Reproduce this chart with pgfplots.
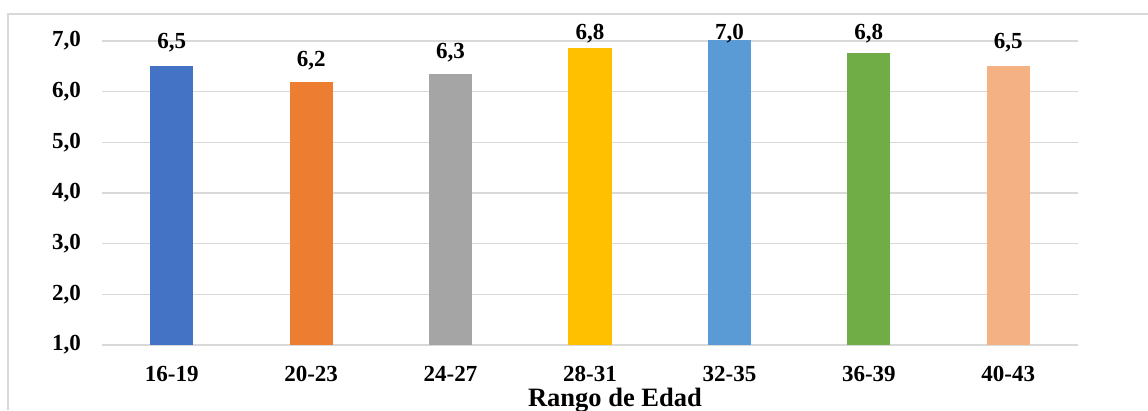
\documentclass[border=0pt]{standalone}
\usepackage{pgfplots}
\pgfplotsset{compat=1.18}
\usepackage{fontspec}
\setmainfont{Liberation Serif}

\definecolor{c1}{HTML}{4472C4}
\definecolor{c2}{HTML}{ED7D31}
\definecolor{c3}{HTML}{A5A5A5}
\definecolor{c4}{HTML}{FFC000}
\definecolor{c5}{HTML}{5B9BD5}
\definecolor{c6}{HTML}{70AD47}
\definecolor{c7}{HTML}{F4B183}
\definecolor{gridc}{HTML}{D9D9D9}

\begin{document}
\begin{tikzpicture}
\useasboundingbox (0,0) rectangle (1148pt,410pt);
% chart frame
\draw[gridc, line width=1.5pt] (8pt,0) -- (8pt,396pt) -- (1148pt,396pt);

\begin{axis}[
    at={(102pt,65pt)}, anchor=south west,
    scale only axis,
    width=976pt, height=329.333pt,
    xmin=-0.5, xmax=6.5,
    ymin=1, ymax=7.5,
    xtick={0,...,6},
    xticklabels={16-19,20-23,24-27,28-31,32-35,36-39,40-43},
    ytick={1,2,...,7},
    axis line style={draw=none},
    major tick length=0pt,
    ymajorgrids=true,
    grid style={draw=gridc, line width=1.4pt},
    font=\fontsize{23}{27}\selectfont\bfseries,
    tick label style={inner sep=0pt},
    yticklabel style={anchor=east, xshift=-21pt},
    xticklabel style={anchor=base, yshift=-36pt},
    /pgf/number format/.cd, assume math mode=true, use comma, fixed, fixed zerofill, precision=1,
    /pgfplots/.cd,
    xlabel={Rango de Edad},
    xlabel style={at={(axis description cs:0.5256,0)}, anchor=base, inner sep=0pt,
        yshift=-61pt, font=\fontsize{26.5}{30}\selectfont\bfseries},
]

\addplot[ybar, bar width=0.31, bar shift=0pt, fill=c1, draw=none] coordinates {(0,6.51)};
\addplot[ybar, bar width=0.31, bar shift=0pt, fill=c2, draw=none] coordinates {(1,6.19)};
\addplot[ybar, bar width=0.31, bar shift=0pt, fill=c3, draw=none] coordinates {(2,6.35)};
\addplot[ybar, bar width=0.31, bar shift=0pt, fill=c4, draw=none] coordinates {(3,6.86)};
\addplot[ybar, bar width=0.31, bar shift=0pt, fill=c5, draw=none] coordinates {(4,7.02)};
\addplot[ybar, bar width=0.31, bar shift=0pt, fill=c6, draw=none] coordinates {(5,6.77)};
\addplot[ybar, bar width=0.31, bar shift=0pt, fill=c7, draw=none] coordinates {(6,6.51)};

% data labels (baseline positions as in the reference)
\addplot[only marks, mark=none, draw=none,
    nodes near coords, point meta=explicit symbolic,
    nodes near coords style={anchor=base, inner sep=0pt, font=\fontsize{23}{27}\selectfont\bfseries}]
    coordinates {
    (0,6.856) [6,5]
    (1,6.493) [6,2]
    (2,6.658) [6,3]
    (3,7.02) [6,8]
    (4,7.02) [7,0]
    (5,7.02) [6,8]
    (6,6.856) [6,5]
    };
\end{axis}
\end{tikzpicture}
\end{document}
